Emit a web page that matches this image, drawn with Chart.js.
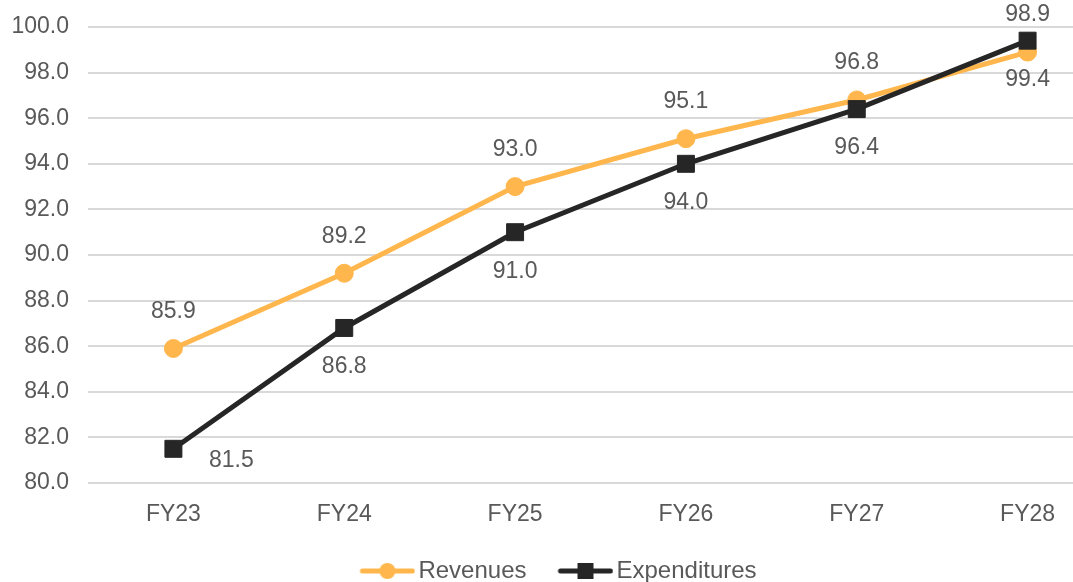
<!DOCTYPE html>
<html>
<head>
<meta charset="utf-8">
<script src="https://cdn.jsdelivr.net/npm/chart.js@4.4.1/dist/chart.umd.min.js"></script>
<style>
  html, body { margin: 0; padding: 0; background: #fff; overflow: hidden; width: 1073px; height: 582px; }
  #wrap { position: relative; width: 1121px; height: 593px; }
</style>
</head>
<body>
<div id="wrap"><canvas id="chart"></canvas></div>
<script>
const categories = ['FY23', 'FY24', 'FY25', 'FY26', 'FY27', 'FY28'];
const revenues = [85.9, 89.2, 93.0, 95.1, 96.8, 98.9];
const expenditures = [81.5, 86.8, 91.0, 94.0, 96.4, 99.4];
const revenueLabelPos = ['above', 'above', 'above', 'above', 'above', 'above'];
const expenditureLabelPos = ['right', 'below', 'below', 'below', 'below', 'below'];

const ORANGE = '#FFB74D';
const DARK = '#262626';
const TEXT = '#595959';
const FONT = "'Liberation Sans', Arial, sans-serif";

// legend swatch: line with marker in the middle (4px blank on the left)
const makeSwatch = (color, shape) => {
  const c = document.createElement('canvas');
  c.width = 60; c.height = 20;
  const g = c.getContext('2d');
  g.strokeStyle = color;
  g.lineWidth = 5;
  g.lineCap = 'round';
  g.beginPath(); g.moveTo(7, 10); g.lineTo(57, 10); g.stroke();
  g.fillStyle = color;
  if (shape === 'circle') {
    g.beginPath(); g.arc(32, 10, 8, 0, Math.PI * 2); g.fill();
  } else {
    g.fillRect(24, 2, 16, 16);
  }
  return c;
};

const dataLabels = {
  id: 'dataLabels',
  afterDatasetsDraw(chart) {
    const ctx = chart.ctx;
    ctx.save();
    ctx.font = `23px ${FONT}`;
    ctx.fillStyle = TEXT;
    ctx.textAlign = 'center';
    ctx.textBaseline = 'middle';
    chart.data.datasets.forEach((ds, di) => {
      const meta = chart.getDatasetMeta(di);
      meta.data.forEach((pt, i) => {
        const pos = ds.labelPos[i];
        let x = pt.x, y = pt.y;
        if (pos === 'above') y -= 37;
        else if (pos === 'below') y += 39;
        else if (pos === 'right') { x += 58; y += 12; }
        ctx.fillText(ds.data[i].toFixed(1), x, y);
      });
    });
    ctx.restore();
  }
};

new Chart(document.getElementById('chart'), {
  type: 'line',
  data: {
    labels: categories,
    datasets: [{
      label: 'Revenues',
      data: revenues,
      labelPos: revenueLabelPos,
      borderColor: ORANGE,
      backgroundColor: ORANGE,
      borderWidth: 5,
      pointStyle: 'circle',
      pointRadius: 9,
      pointBorderWidth: 1,
      pointHoverRadius: 9,
      order: 2
    }, {
      label: 'Expenditures',
      data: expenditures,
      labelPos: expenditureLabelPos,
      borderColor: DARK,
      backgroundColor: DARK,
      borderWidth: 5,
      pointStyle: 'rect',
      pointRadius: 12,
      pointBorderWidth: 1,
      pointHoverRadius: 12,
      order: 1
    }]
  },
  options: {
    responsive: true,
    maintainAspectRatio: false,
    animation: false,
    layout: { autoPadding: false, padding: { top: 27, right: 0, left: 0, bottom: 0 } },
    plugins: {
      tooltip: { enabled: false },
      legend: {
        position: 'bottom',
        labels: {
          usePointStyle: true,
          pointStyleWidth: 42,
          padding: 36,
          color: TEXT,
          font: { family: FONT, size: 24 },
          sort: (a, b) => a.datasetIndex - b.datasetIndex,
          generateLabels: (chart) => chart.data.datasets.map((ds, i) => ({
            text: ds.label,
            fillStyle: ds.borderColor,
            strokeStyle: ds.borderColor,
            lineWidth: 0,
            pointStyle: makeSwatch(ds.borderColor, ds.pointStyle),
            fontColor: TEXT,
            hidden: false,
            datasetIndex: i
          }))
        }
      }
    },
    scales: {
      x: {
        offset: true,
        grid: { display: false, drawTicks: false },
        border: { display: false },
        ticks: { color: TEXT, font: { family: FONT, size: 23 }, padding: 18 },
        afterFit: (s) => { s.height = 40; }
      },
      y: {
        min: 80,
        max: 100,
        grid: { color: '#D9D9D9', lineWidth: 2, drawTicks: false },
        border: { display: false },
        ticks: {
          stepSize: 2,
          color: TEXT,
          font: { family: FONT, size: 23 },
          padding: 19,
          callback: (v) => v.toFixed(1)
        },
        afterFit: (s) => { s.width = 88; s.paddingTop = 0; s.paddingBottom = 0; }
      },
      // empty spacer on the right, keeps the plot running past the window edge
      y2: {
        position: 'right',
        grid: { display: false, drawTicks: false },
        border: { display: false },
        ticks: { display: false },
        afterFit: (s) => { s.width = 8; s.paddingTop = 0; s.paddingBottom = 0; }
      }
    }
  },
  plugins: [dataLabels]
});
</script>
</body>
</html>
